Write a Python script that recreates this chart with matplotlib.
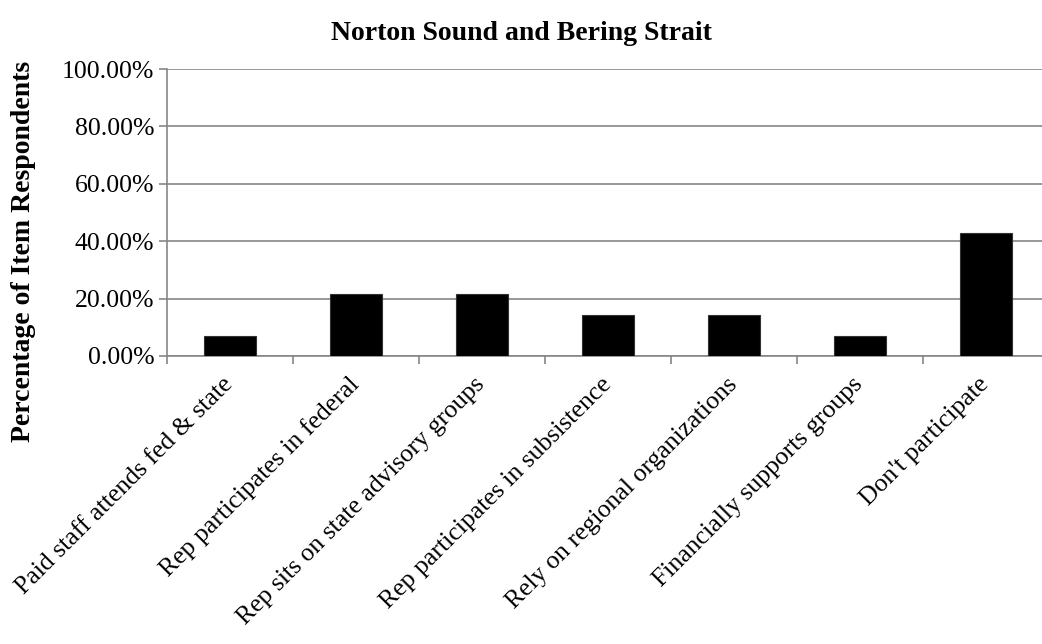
import matplotlib
matplotlib.use("Agg")
import matplotlib.pyplot as plt
import numpy as np
from matplotlib.ticker import FixedLocator, FuncFormatter

categories = [
    "Paid staff attends fed & state",
    "Rep participates in federal",
    "Rep sits on state advisory groups",
    "Rep participates in subsistence",
    "Rely on regional organizations",
    "Financially supports groups",
    "Don't participate",
]
values = [7.14, 21.43, 21.43, 14.29, 14.29, 7.14, 42.86]
yticks = [0, 20, 40, 60, 80, 100]
title = "Norton Sound and Bering Strait"
ylabel = "Percentage of Item Respondents"

plt.rcParams['font.family'] = ['Liberation Serif', 'DejaVu Serif']

W, H = 1042, 644
fig = plt.figure(figsize=(W / 100, H / 100), dpi=100)
x0, x1 = 166.7, 1048.7
y0, y1 = 356, 69
ax = fig.add_axes([x0 / W, 1 - y0 / H, (x1 - x0) / W, (y0 - y1) / H])

x = np.arange(len(categories))
ax.bar(x, values, width=0.41, color='black', edgecolor='#333333', linewidth=0.8, zorder=3)

ax.set_xlim(-0.5, len(categories) - 0.5)
ax.set_ylim(0, 100)
ax.yaxis.set_major_locator(FixedLocator(yticks))
ax.yaxis.set_major_formatter(FuncFormatter(lambda v, p: f"{v:.2f}%"))
ax.grid(axis='y', color='#868686', linewidth=1.2, zorder=0)
ax.set_axisbelow(True)

ax.xaxis.set_major_locator(FixedLocator(np.arange(len(categories) + 1) - 0.5))
ax.xaxis.set_major_formatter(FuncFormatter(lambda v, p: ""))
ax.xaxis.set_minor_locator(FixedLocator(x))
ax.set_xticklabels(categories, minor=True, rotation=45, ha='right', va='center',
                   rotation_mode='anchor', fontsize=18.5)
ax.tick_params(axis='x', which='minor', length=0, pad=18)
ax.tick_params(axis='x', which='major', length=6, color='#868686', width=1.2)
ax.tick_params(axis='y', length=6, color='#868686', width=1.2, labelsize=18.5, pad=3)

for s in ['top', 'right']:
    ax.spines[s].set_visible(False)
for s in ['left', 'bottom']:
    ax.spines[s].set_color('#868686')
    ax.spines[s].set_linewidth(1.2)

fig.text(521 / W, 1 - 33 / H, title, ha='center', va='center', fontsize=20, fontweight='bold')
fig.text(24 / W, 1 - 251 / H, ylabel, ha='center', va='center', rotation=90, fontsize=20, fontweight='bold')

fig.savefig("out.png", dpi=100)
